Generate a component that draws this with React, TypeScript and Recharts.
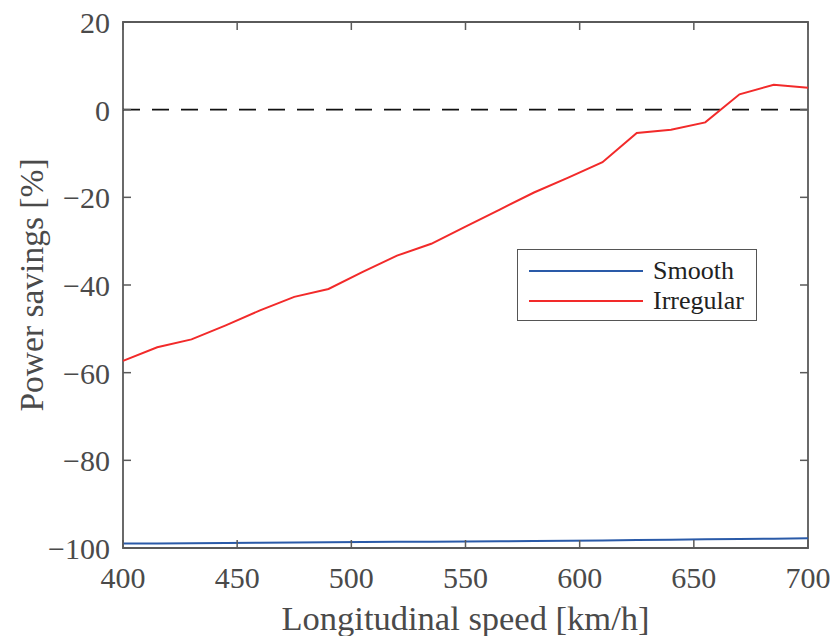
import React from 'react';
import {
  LineChart,
  Line,
  XAxis,
  YAxis,
  ReferenceLine,
  ReferenceArea,
} from 'recharts';

const speeds = [400, 415, 430, 445, 460, 475, 490, 505, 520, 535, 550, 565, 580, 595, 610, 625, 640, 655, 670, 685, 700];
const smooth = [-99.0, -98.95, -98.9, -98.85, -98.8, -98.75, -98.7, -98.65, -98.6, -98.55, -98.5, -98.45, -98.4, -98.35, -98.3, -98.2, -98.1, -98.0, -97.95, -97.9, -97.8];
const irregular = [-57.3, -54.2, -52.4, -49.2, -45.8, -42.7, -40.9, -37.0, -33.3, -30.6, -26.7, -22.8, -18.9, -15.5, -12.0, -5.3, -4.6, -2.9, 3.5, 5.7, 5.0];
const xTicks = [400, 450, 500, 550, 600, 650, 700];
const yTicks = [-100, -80, -60, -40, -20, 0, 20];
const seriesNames = ['Smooth', 'Irregular'];
const seriesColors = ['#2a5aa8', '#f22a2a'];

const data = speeds.map((s, i) => ({ speed: s, smooth: smooth[i], irregular: irregular[i] }));

const W = 835;
const H = 636;
const PL = 123;
const PR = 808;
const PT = 22;
const PB = 548;
const TICK = 8;
const AXIS = '#5a5a5a';
const TEXT = '#4a4a4a';
const FONT = '"Liberation Serif", "DejaVu Serif", serif';

const fmt = (v: number) => (v < 0 ? `\u2212${Math.abs(v)}` : `${v}`);

const XTick = (props: any) => {
  const { x, payload } = props;
  return (
    <g>
      <line x1={x} x2={x} y1={PB} y2={PB - TICK} stroke={AXIS} strokeWidth={1.5} />
      <line x1={x} x2={x} y1={PT} y2={PT + TICK} stroke={AXIS} strokeWidth={1.5} />
      <text x={x} y={PB + 40} textAnchor="middle" fill={TEXT} fontSize={30} fontFamily={FONT}>
        {payload.value}
      </text>
    </g>
  );
};

const YTick = (props: any) => {
  const { y, payload } = props;
  return (
    <g>
      <line x1={PL} x2={PL + TICK} y1={y} y2={y} stroke={AXIS} strokeWidth={1.5} />
      <line x1={PR} x2={PR - TICK} y1={y} y2={y} stroke={AXIS} strokeWidth={1.5} />
      <text x={PL - 13} y={y + 11} textAnchor="end" fill={TEXT} fontSize={30} fontFamily={FONT}>
        {fmt(payload.value)}
      </text>
    </g>
  );
};

const LegendBox = () => (
  <div
    style={{
      position: 'absolute',
      left: 517,
      top: 249,
      border: '1.5px solid #555',
      background: '#fff',
      width: 240,
      height: 72,
      boxSizing: 'border-box',
      padding: '6px 0 0 11px',
      fontFamily: FONT,
      fontSize: 26,
      color: '#222',
    }}
  >
    {seriesNames.map((name, i) => (
      <div key={name} style={{ display: 'flex', alignItems: 'center', height: 30 }}>
        <div style={{ width: 114, height: 2, background: seriesColors[i], marginRight: 10 }} />
        <span style={{ lineHeight: '30px' }}>{name}</span>
      </div>
    ))}
  </div>
);

export default function App() {
  return (
    <div style={{ position: 'absolute', left: 0, top: 0, width: W, height: H, background: '#fff' }}>
      <LineChart width={W} height={H} data={data} margin={{ top: PT, right: W - PR, left: 0, bottom: 0 }}>
        <XAxis
          dataKey="speed"
          type="number"
          domain={[400, 700]}
          ticks={xTicks}
          axisLine={false}
          tickLine={false}
          tick={<XTick />}
          height={H - PB}
          interval={0}
          label={{ value: 'Longitudinal speed [km/h]', position: 'insideBottom', offset: 6, fill: TEXT, fontSize: 34.5, fontFamily: FONT }}
        />
        <YAxis
          type="number"
          domain={[-100, 20]}
          ticks={yTicks}
          axisLine={false}
          tickLine={false}
          tick={<YTick />}
          width={PL}
          interval={0}
          label={{ value: 'Power savings [%]', angle: -90, position: 'insideLeft', offset: 31, fill: TEXT, fontSize: 33.5, fontFamily: FONT, style: { textAnchor: 'middle' } }}
        />
        <ReferenceLine y={0} stroke="#111" strokeWidth={1.7} strokeDasharray="17 12" />
        <Line type="linear" dataKey="smooth" name={seriesNames[0]} stroke={seriesColors[0]} strokeWidth={2} dot={false} isAnimationActive={false} />
        <Line type="linear" dataKey="irregular" name={seriesNames[1]} stroke={seriesColors[1]} strokeWidth={2} dot={false} isAnimationActive={false} />
        <ReferenceArea x1={400} x2={700} y1={-100} y2={20} fill="none" stroke={AXIS} strokeWidth={1.8} ifOverflow="visible" />
      </LineChart>
      <LegendBox />
    </div>
  );
}
